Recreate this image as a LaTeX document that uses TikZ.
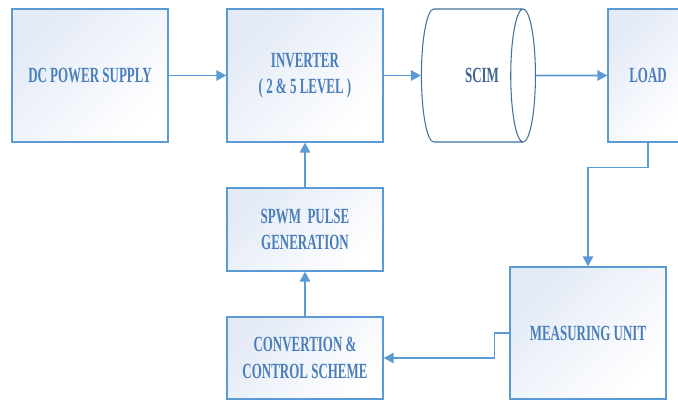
\documentclass[tikz,border=0pt]{standalone}
\usepackage{fontspec}
\usetikzlibrary{shapes.geometric,arrows.meta}
\newfontfamily\blockfont[FakeStretch=0.6]{Liberation Serif}
\definecolor{blockline}{HTML}{5B9BD5}
\definecolor{blocktint}{HTML}{E3EAF6}
\definecolor{blocktext}{HTML}{4A7EBB}
\definecolor{scimline}{HTML}{41719C}
\definecolor{scimtext}{HTML}{3E6496}

\begin{document}
\begin{tikzpicture}
[line width=0.8pt,
block/.style={rectangle, draw=blockline, top color=blocktint, bottom color=white, shading angle=45,
  inner sep=0pt, minimum width=3.12cm, minimum height=2.66cm, align=center, text=blocktext,
  font=\blockfont\bfseries\fontsize{12.3}{15}\selectfont},
motor/.style={cylinder, draw=scimline, fill=white, line width=0.6pt, inner sep=0pt, aspect=1.7,
  minimum width=2.66cm, minimum height=2.28cm, text=scimtext,
  font=\blockfont\bfseries\fontsize{12.3}{15}\selectfont},
flow/.style={draw=blockline, line width=0.9pt, -{Triangle[length=2mm,width=2.1mm]}}]

\useasboundingbox (0,0) rectangle (13.56,-8.02);

% top row
\node[block] (dcps) at (1.80,-1.51) {DC POWER SUPPLY};
\node[block] (inv) at (6.10,-1.51) {INVERTER\\( 2 \& 5 LEVEL )};
\node[motor] (scim) at (9.44,-1.51) {\hspace*{0.4cm}SCIM};
\node[block, minimum width=1.60cm] (load) at (12.96,-1.51) {LOAD};

% feedback path
\node[block, minimum height=1.66cm] (spwm) at (6.10,-4.59) {SPWM\ \ PULSE\\GENERATION};
\node[block, minimum height=1.64cm] (conv) at (6.10,-7.16) {CONVERTION \&\\CONTROL SCHEME};
\node[block, minimum height=2.64cm] (meas) at (11.76,-6.66) {MEASURING UNIT};

\draw[flow] (dcps) -- (inv);
\draw[flow] (inv) -- (scim);
\draw[flow] (scim) -- (load);
\draw[flow] (load.south) -- ++(0,-0.50) -| (meas.north);
\draw[flow] (meas.west) -- ++(-0.30,0) |- (conv.east);
\draw[flow] (conv) -- (spwm);
\draw[flow] (spwm) -- (inv);
\end{tikzpicture}
\end{document}
